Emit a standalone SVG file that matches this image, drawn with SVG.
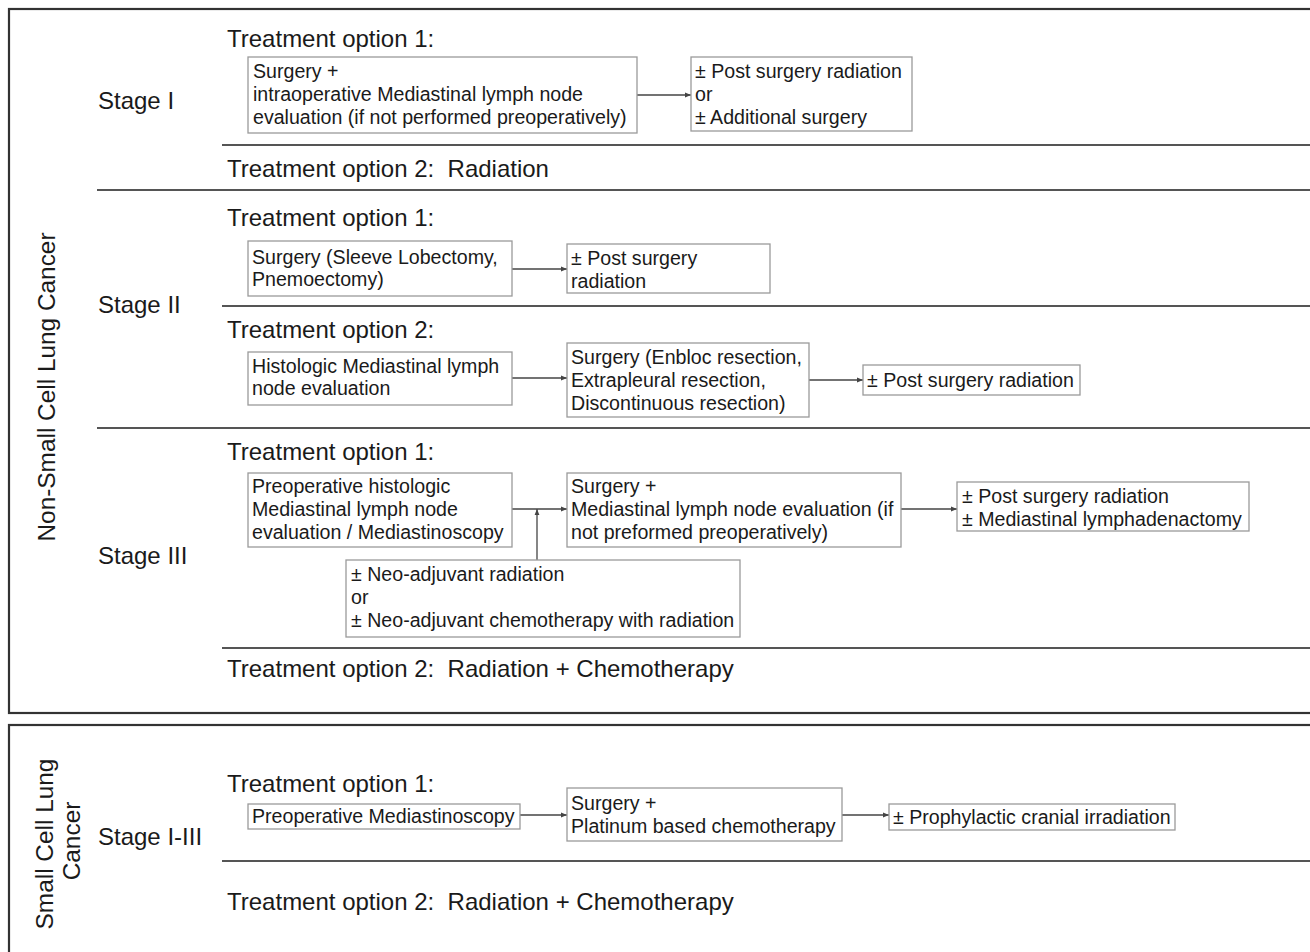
<svg xmlns="http://www.w3.org/2000/svg" width="1310" height="952" viewBox="0 0 1310 952">
<style>
text{font-family:"Liberation Sans",Arial,sans-serif;fill:#1a1a1a}
.h{font-size:24px}
.b{font-size:19.6px}
.v{font-size:24.4px;text-anchor:middle}
.box{fill:#fff;stroke:#9a9a9a;stroke-width:1.3}
.frame{fill:none;stroke:#333;stroke-width:2.2}
.sep{stroke:#555;stroke-width:2}
.con{stroke:#444;stroke-width:1.3;fill:none}
</style>
<defs>
<marker id="ah" markerWidth="6" markerHeight="6" refX="6" refY="3" orient="auto" markerUnits="userSpaceOnUse">
<path d="M0,0.6 L6,3 L0,5.4 z" fill="#444"/>
</marker>
</defs>
<rect width="1310" height="952" fill="#fff"/>
<g id="frames">
<rect class="frame" x="9" y="9" width="1320" height="704"/>
<rect class="frame" x="9" y="725" width="1320" height="260"/>
</g>
<g id="separators">
<line class="sep" x1="222" y1="145" x2="1310" y2="145"/>
<line class="sep" x1="97" y1="190" x2="1310" y2="190"/>
<line class="sep" x1="222" y1="306" x2="1310" y2="306"/>
<line class="sep" x1="97" y1="428" x2="1310" y2="428"/>
<line class="sep" x1="222" y1="648" x2="1310" y2="648"/>
<line class="sep" x1="222" y1="861" x2="1310" y2="861"/>
</g>
<g id="labels">
<text class="v" transform="translate(55,387) rotate(-90)">Non-Small Cell Lung Cancer</text>
<text class="v" transform="translate(53,844) rotate(-90)">Small Cell Lung</text>
<text class="v" transform="translate(80,841) rotate(-90)">Cancer</text>
<text class="h" x="98" y="109">Stage I</text>
<text class="h" x="98" y="313">Stage II</text>
<text class="h" x="98" y="564">Stage III</text>
<text class="h" x="98" y="845">Stage I-III</text>
<text class="h" x="227" y="47">Treatment option 1:</text>
<text class="h" x="227" y="177" xml:space="preserve">Treatment option 2:  Radiation</text>
<text class="h" x="227" y="226">Treatment option 1:</text>
<text class="h" x="227" y="338">Treatment option 2:</text>
<text class="h" x="227" y="460">Treatment option 1:</text>
<text class="h" x="227" y="677" xml:space="preserve">Treatment option 2:  Radiation + Chemotherapy</text>
<text class="h" x="227" y="792">Treatment option 1:</text>
<text class="h" x="227" y="910" xml:space="preserve">Treatment option 2:  Radiation + Chemotherapy</text>
</g>
<g id="connectors">
<line class="con" x1="637" y1="95" x2="691" y2="95" marker-end="url(#ah)"/>
<line class="con" x1="512" y1="269" x2="567" y2="269" marker-end="url(#ah)"/>
<line class="con" x1="512" y1="378" x2="567" y2="378" marker-end="url(#ah)"/>
<line class="con" x1="809" y1="380" x2="863" y2="380" marker-end="url(#ah)"/>
<line class="con" x1="512" y1="509" x2="567" y2="509" marker-end="url(#ah)"/>
<line class="con" x1="537" y1="560" x2="537" y2="509" marker-end="url(#ah)"/>
<line class="con" x1="901" y1="509" x2="957" y2="509" marker-end="url(#ah)"/>
<line class="con" x1="520" y1="815" x2="567" y2="815" marker-end="url(#ah)"/>
<line class="con" x1="842" y1="815" x2="889" y2="815" marker-end="url(#ah)"/>
</g>
<g id="s1-surgery">
<rect class="box" x="248" y="57" width="389" height="76"/>
<text class="b" x="253" y="78">Surgery +</text>
<text class="b" x="253" y="101">intraoperative Mediastinal lymph node</text>
<text class="b" x="253" y="124">evaluation (if not performed preoperatively)</text>
</g>
<g id="s1-post">
<rect class="box" x="691" y="57" width="221" height="74"/>
<text class="b" x="695" y="78">± Post surgery radiation</text>
<text class="b" x="695" y="101">or</text>
<text class="b" x="695" y="124">± Additional surgery</text>
</g>
<g id="s2-surgery">
<rect class="box" x="248" y="241" width="264" height="55"/>
<text class="b" x="252" y="264">Surgery (Sleeve Lobectomy,</text>
<text class="b" x="252" y="286">Pnemoectomy)</text>
</g>
<g id="s2-post">
<rect class="box" x="567" y="244" width="203" height="49"/>
<text class="b" x="571" y="265">± Post surgery</text>
<text class="b" x="571" y="288">radiation</text>
</g>
<g id="s2-histologic">
<rect class="box" x="248" y="352" width="264" height="53"/>
<text class="b" x="252" y="373">Histologic Mediastinal lymph</text>
<text class="b" x="252" y="395">node evaluation</text>
</g>
<g id="s2-enbloc">
<rect class="box" x="567" y="343" width="242" height="74"/>
<text class="b" x="571" y="364">Surgery (Enbloc resection,</text>
<text class="b" x="571" y="387">Extrapleural resection,</text>
<text class="b" x="571" y="410">Discontinuous resection)</text>
</g>
<g id="s2-post2">
<rect class="box" x="863" y="365" width="217" height="30"/>
<text class="b" x="867" y="387">± Post surgery radiation</text>
</g>
<g id="s3-preop">
<rect class="box" x="248" y="473" width="264" height="74"/>
<text class="b" x="252" y="493">Preoperative histologic</text>
<text class="b" x="252" y="516">Mediastinal lymph node</text>
<text class="b" x="252" y="539">evaluation / Mediastinoscopy</text>
</g>
<g id="s3-surgery">
<rect class="box" x="567" y="473" width="334" height="74"/>
<text class="b" x="571" y="493">Surgery +</text>
<text class="b" x="571" y="516">Mediastinal lymph node evaluation (if</text>
<text class="b" x="571" y="539">not preformed preoperatively)</text>
</g>
<g id="s3-post">
<rect class="box" x="957" y="482" width="292" height="49"/>
<text class="b" x="962" y="503">± Post surgery radiation</text>
<text class="b" x="962" y="526">± Mediastinal lymphadenactomy</text>
</g>
<g id="s3-neo">
<rect class="box" x="346" y="560" width="394" height="77"/>
<text class="b" x="351" y="581">± Neo-adjuvant radiation</text>
<text class="b" x="351" y="604">or</text>
<text class="b" x="351" y="627">± Neo-adjuvant chemotherapy with radiation</text>
</g>
<g id="sc-preop">
<rect class="box" x="248" y="804" width="272" height="25"/>
<text class="b" x="252" y="823">Preoperative Mediastinoscopy</text>
</g>
<g id="sc-surgery">
<rect class="box" x="567" y="788" width="275" height="53"/>
<text class="b" x="571" y="810">Surgery +</text>
<text class="b" x="571" y="833">Platinum based chemotherapy</text>
</g>
<g id="sc-pci">
<rect class="box" x="889" y="804" width="286" height="26"/>
<text class="b" x="893" y="824">± Prophylactic cranial irradiation</text>
</g>
</svg>
